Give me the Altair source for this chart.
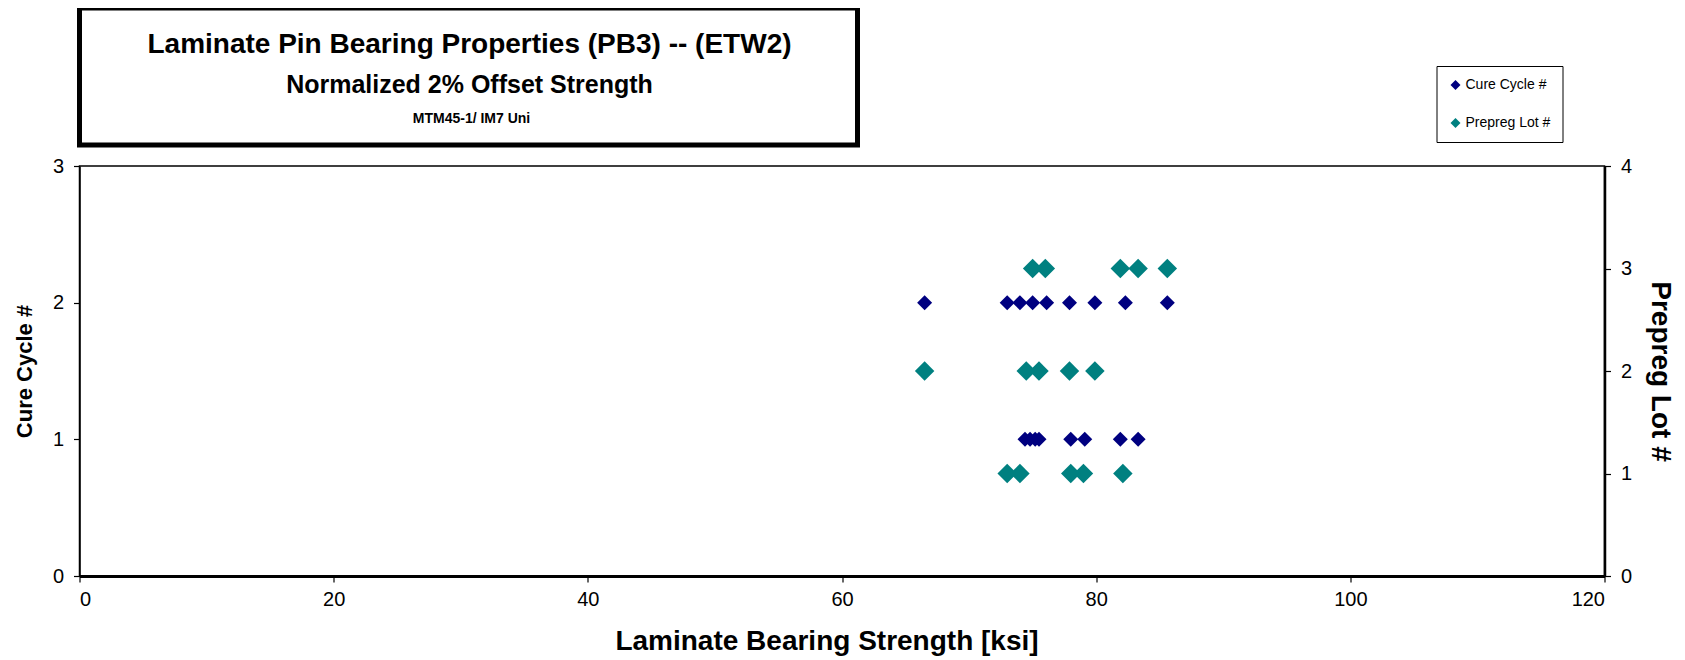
import altair as alt
import pandas as pd

# ---- data ----
cure2_x = [66.5, 73.0, 74.0, 75.0, 76.1, 77.9, 79.9, 82.3, 85.6]
cure1_x = [74.4, 74.8, 75.2, 75.5, 78.0, 79.1, 81.9, 83.3]
lot3_x = [75.0, 76.0, 81.9, 83.3, 85.6]
lot2_x = [66.5, 74.5, 75.5, 77.9, 79.9]
lot1_x = [73.0, 74.0, 78.0, 79.0, 82.1]

series_names = ["Cure Cycle #", "Prepreg Lot #"]
series_colors = ["#000080", "#008080"]
title_lines = ["Laminate Pin Bearing Properties (PB3) -- (ETW2)",
               "Normalized 2% Offset Strength",
               "MTM45-1/ IM7 Uni"]
x_ticks = [0, 20, 40, 60, 80, 100, 120]
cure_ticks = [0, 1, 2, 3]
lot_ticks = [0, 1, 2, 3, 4]

FONT = "Liberation Sans"

cure_df = pd.DataFrame({
    "strength": cure2_x + cure1_x,
    "val": [2] * len(cure2_x) + [1] * len(cure1_x),
    "series": series_names[0],
})
lot_df = pd.DataFrame({
    "strength": lot3_x + lot2_x + lot1_x,
    "val": [3] * len(lot3_x) + [2] * len(lot2_x) + [1] * len(lot1_x),
    "series": series_names[1],
})

color = alt.Color(
    "series:N",
    scale=alt.Scale(domain=series_names, range=series_colors),
    legend=alt.Legend(
        orient="none", legendX=1357, legendY=-100, title=None,
        strokeColor="black", fillColor="white",
        padding=12, rowPadding=24, labelFontSize=14, labelFont=FONT,
        labelColor="black", symbolType="diamond", symbolSize=100,
        symbolOffset=0, labelOffset=3,
    ),
)

xenc = alt.X(
    "strength:Q",
    scale=alt.Scale(domain=[0, 120], nice=False),
    axis=alt.Axis(
        values=x_ticks, title="Laminate Bearing Strength [ksi]",
        titleFont=FONT, titleFontSize=28, titleFontWeight="bold", titleColor="black",
        titleX=747,
        labelFont=FONT, labelFontSize=20, labelColor="black", labelPadding=7,
        tickSize=6, tickColor="black", tickWidth=1.2,
        domainColor="black", domainWidth=3, grid=False, titlePadding=18,
    ),
)

cure_layer = alt.Chart(cure_df).mark_point(shape="diamond", filled=True, opacity=1, size=225).encode(
    x=xenc,
    y=alt.Y("val:Q", scale=alt.Scale(domain=[0, 3], nice=False),
            axis=alt.Axis(orient="left", values=cure_ticks, format="d", title="Cure Cycle #",
                          titleFont=FONT, titleFontSize=22, titleFontWeight="bold", titleColor="black",
                          labelFont=FONT, labelFontSize=20, labelColor="black", labelPadding=10,
                          tickSize=6, tickColor="black", tickWidth=1.2,
                          domainColor="black", domainWidth=1.5, grid=False, titlePadding=16)),
    color=color,
)

lot_layer = alt.Chart(lot_df).mark_point(shape="diamond", filled=True, opacity=1, size=380).encode(
    x=xenc,
    y=alt.Y("val:Q", scale=alt.Scale(domain=[0, 4], nice=False),
            axis=alt.Axis(orient="right", values=lot_ticks, format="d", title="Prepreg Lot #",
                          titleFont=FONT, titleFontSize=28, titleFontWeight="bold", titleColor="black",
                          titleAngle=90, titleBaseline="bottom",
                          labelFont=FONT, labelFontSize=20, labelColor="black", labelPadding=10,
                          tickSize=6, tickColor="black", tickWidth=1.2,
                          domainColor="black", domainWidth=2.5, grid=False, titlePadding=14)),
    color=color,
)

one = pd.DataFrame({"k": [0]})
box = alt.Chart(one).mark_rect(fill="white", stroke="black", strokeWidth=5).encode(
    x=alt.value(0), x2=alt.value(778), y=alt.value(-158), y2=alt.value(-21)
)

title_df = pd.DataFrame({"t": title_lines, "row": [0, 1, 2]})
t1 = alt.Chart(title_df[title_df.row == 0]).mark_text(
    font=FONT, fontSize=28, fontWeight="bold", color="black", align="center", baseline="middle"
).encode(text="t:N", x=alt.value(390), y=alt.value(-121))
t2 = alt.Chart(title_df[title_df.row == 1]).mark_text(
    font=FONT, fontSize=25, fontWeight="bold", color="black", align="center", baseline="middle"
).encode(text="t:N", x=alt.value(390), y=alt.value(-81))
t3 = alt.Chart(title_df[title_df.row == 2]).mark_text(
    font=FONT, fontSize=14, fontWeight="bold", color="black", align="center", baseline="middle"
).encode(text="t:N", x=alt.value(392), y=alt.value(-47))

chart = alt.layer(lot_layer, cure_layer, box, t1, t2, t3).resolve_scale(
    y="independent"
).properties(
    width=1525, height=410,
    autosize=alt.AutoSizeParams(type="none"),
    padding={"left": 71.5, "top": 158, "right": 72, "bottom": 82},
    background="white",
).configure_view(stroke="black", strokeWidth=1.5)

chart.save("out.html", embed_options={"renderer": "svg", "actions": False})
